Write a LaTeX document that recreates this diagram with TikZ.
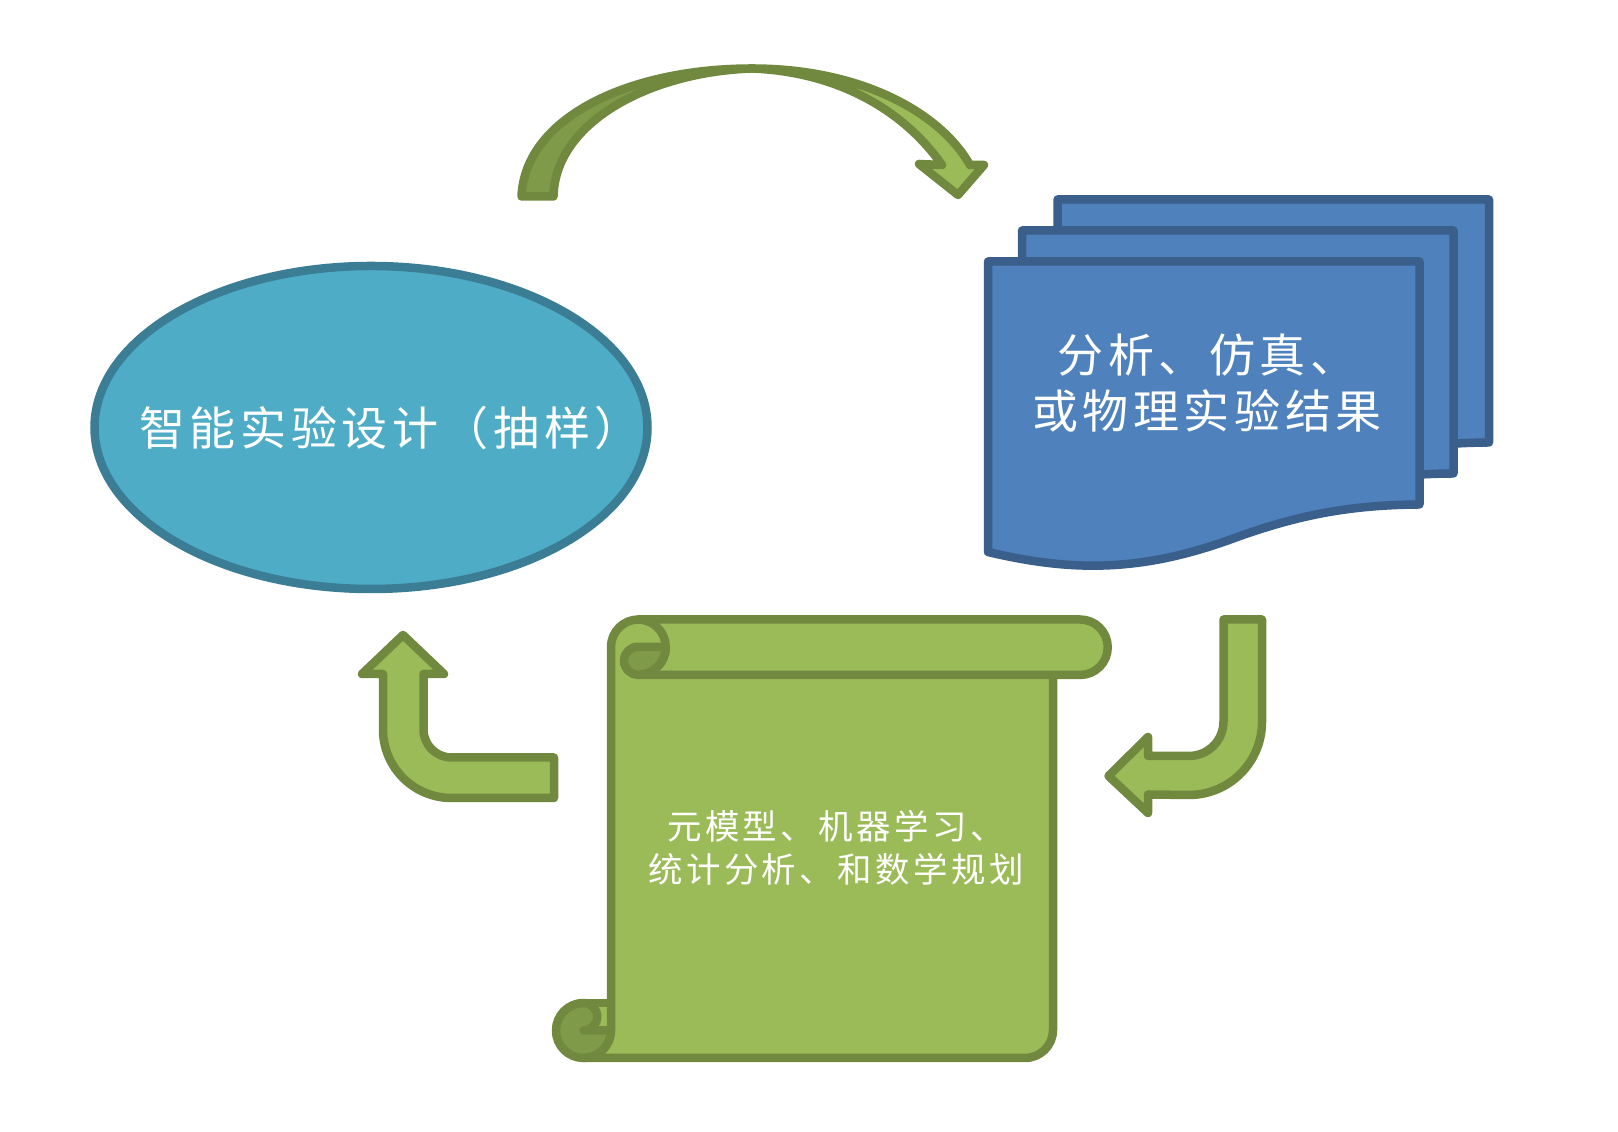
\documentclass[tikz,border=0pt]{standalone}
\usepackage{fontspec}
\usetikzlibrary{shapes.geometric}
\newfontfamily\cjkfont[LetterSpace=10]{Noto Sans CJK SC}
\definecolor{greenfill}{HTML}{9BBB59}
\definecolor{greendark}{HTML}{7F9A48}
\definecolor{greenline}{HTML}{71893F}
\definecolor{bluefill}{HTML}{4F81BD}
\definecolor{blueline}{HTML}{3A5F8B}
\definecolor{aquafill}{HTML}{4FACC6}
\definecolor{aqualine}{HTML}{3B7D94}
\tikzset{
  greenshape/.style={draw=greenline,fill=greenfill,line width=0.085cm,line join=round},
  greenfold/.style={greenshape,fill=greendark},
  bluesheet/.style={draw=blueline,fill=bluefill,line width=0.085cm,line join=round},
  biglabel/.style={text=white,align=center,inner sep=0pt,font=\cjkfont\fontsize{13.1}{16.2}\selectfont},
  smalllabel/.style={text=white,align=center,inner sep=0pt,font=\cjkfont\fontsize{9.8}{12.2}\selectfont}
}
\begin{document}
\begin{tikzpicture}
  \useasboundingbox (0,0) rectangle (16.18,11.32);

  % ellipse
  \node[ellipse,draw=aqualine,fill=aquafill,line width=0.085cm,minimum width=5.53cm,minimum height=3.23cm,inner sep=0pt] (design) at (3.71,7.045) {};
  \node[biglabel] (designlabel) at (3.90,7.04) {智能实验设计（抽样）};

  % stacked sheets
  \foreach \dx/\dy in {0.695/0.62,0.34/0.31,0/0} {
    \draw[bluesheet,shift={(\dx,\dy)}] (9.88,8.705) -- (14.195,8.705) -- (14.195,6.275)
      .. controls (13.5,6.27) and (13.0,6.17) .. (12.40,5.96)
      .. controls (11.5,5.62) and (10.8,5.58) .. (9.88,5.80) -- cycle;
  }
  \node[biglabel] (resultlabel) at (12.07,7.49) {分析、仿真、\\或物理实验结果};

  % scroll
  \draw[greenshape] (5.835,1.015) rectangle (6.11,1.29);
  \draw[greenfold] (5.835,1.29) arc[start angle=90,end angle=360,radius=0.275] -- (5.835,1.015)
    arc[start angle=-90,end angle=90,radius=0.1375] -- cycle;
  \draw[greenshape] (6.11,4.85) -- (6.11,1.015) arc[start angle=0,end angle=-90,radius=0.275]
    -- (10.25,0.74) arc[start angle=270,end angle=360,radius=0.28]
    -- (10.53,5.125) -- (6.385,5.125) arc[start angle=90,end angle=180,radius=0.275] -- cycle;
  \draw[greenshape] (6.38,5.125) -- (10.8,5.125) arc[start angle=90,end angle=-90,radius=0.2775]
    -- (6.38,4.57) arc[start angle=-90,end angle=90,radius=0.2775] -- cycle;
  \draw[greenfold] (6.38,4.85) -- (6.6575,4.85) arc[start angle=0,end angle=-90,radius=0.2775]
    arc[start angle=270,end angle=90,radius=0.14] -- cycle;
  \node[smalllabel] (scrolllabel) at (8.36,2.84) {元模型、机器学习、\\统计分析、和数学规划};

  % top arrow
  \fill[greendark] (5.215,9.355) .. controls (5.25,10.15) and (6.3,10.635) .. (7.52,10.635)
    .. controls (6.5,10.6) and (5.55,10.1) .. (5.535,9.355) -- cycle;
  \fill[greenfill] (7.52,10.635) .. controls (8.6,10.635) and (9.4,10.2) .. (9.70,9.67)
    -- (9.84,9.67) -- (9.58,9.37) -- (9.19,9.68) -- (9.42,9.67)
    .. controls (9.05,10.2) and (8.4,10.6) .. cycle;
  \draw[greenline,line width=0.085cm,line join=round] (5.215,9.355) .. controls (5.25,10.15) and (6.3,10.635) .. (7.52,10.635)
    .. controls (8.6,10.635) and (9.4,10.2) .. (9.70,9.67)
    -- (9.84,9.67) -- (9.58,9.37) -- (9.19,9.68) -- (9.42,9.67)
    .. controls (9.05,10.2) and (8.4,10.6) .. (7.52,10.635)
    .. controls (6.5,10.6) and (5.55,10.1) .. (5.535,9.355) -- cycle;

  % left arrow
  \draw[greenshape] (4.03,4.97) -- (4.44,4.58) -- (4.235,4.58) -- (4.235,4.025)
    arc[start angle=180,end angle=270,radius=0.28] -- (5.54,3.745) -- (5.54,3.34) -- (4.515,3.34)
    arc[start angle=270,end angle=180,radius=0.685] -- (3.83,4.58) -- (3.62,4.58) -- cycle;

  % right arrow
  \draw[greenshape] (12.235,5.125) -- (12.62,5.125) -- (12.62,4.10)
    arc[start angle=0,end angle=-90,radius=0.73] -- (11.48,3.375) -- (11.48,3.19) -- (11.085,3.56)
    -- (11.48,3.95) -- (11.48,3.76) -- (11.89,3.76)
    arc[start angle=-90,end angle=0,radius=0.345] -- cycle;
\end{tikzpicture}
\end{document}
